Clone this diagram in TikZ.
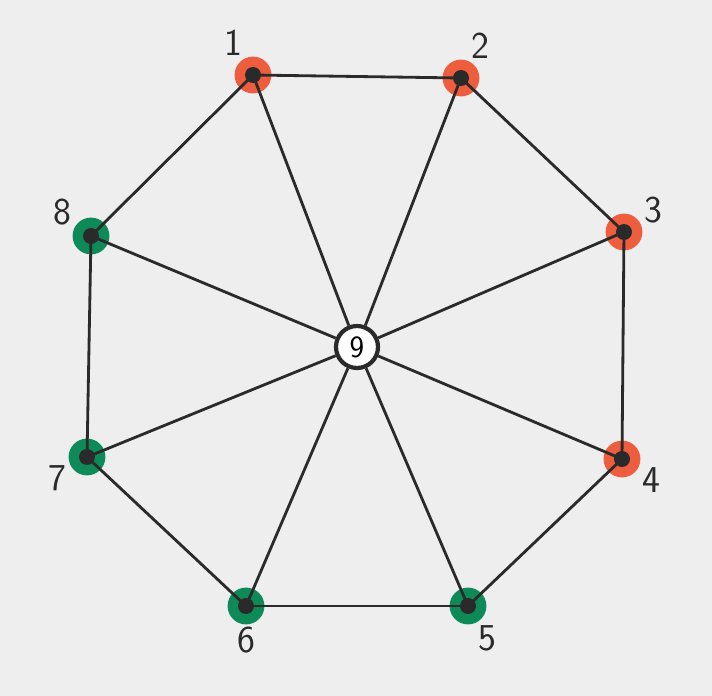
\documentclass[tikz,border=0pt]{standalone}
\usepackage{fontspec}
\definecolor{paper}{HTML}{EEEEEE}
\definecolor{warm}{HTML}{EE5D3E}
\definecolor{cool}{HTML}{0E8A58}
\definecolor{ink}{HTML}{2A2A2A}
\tikzset{
  vtx/.style={circle, minimum size=0.92cm, inner sep=0pt},
  vred/.style={vtx, fill=warm},
  vgreen/.style={vtx, fill=cool},
  hub/.style={circle, draw=ink, line width=3pt, fill=white, minimum size=1.05cm, inner sep=0pt, font=\sffamily\fontsize{22}{22}\selectfont},
  lbl/.style={font=\sffamily\fontsize{27}{27}\selectfont, text=ink, label distance=-2pt},
  edge/.style={draw=ink, line width=2pt}
}
\begin{document}
\begin{tikzpicture}[x=0.025cm, y=-0.025cm]
        \fill[paper] (0,0) rectangle (712,696);
        % Nodes
        \node (n1) [vred, label={[lbl]110:1}] at (253,75) {};
        \node (n2) [vred, label={[lbl]70:2}] at (461,78) {};
        \node (n3) [vred, label={[lbl]15:3}] at (624,232) {};
        \node (n4) [vred, label={[lbl]-15:4}] at (622,459) {};
        \node (n5) [vgreen, label={[lbl]-70:5}] at (468,606) {};
        \node (n6) [vgreen, label={[lbl]-90:6}] at (246,606) {};
        \node (n7) [vgreen, label={[lbl]195:7}] at (87,457) {};
        \node (n8) [vgreen, label={[lbl]160:8}] at (91,236) {};
        \node (n9) [hub] at (357,347) {9};

        % Outer cycle
        \foreach \a/\b in {1/2, 2/3, 3/4, 4/5, 5/6, 6/7, 7/8, 8/1}
          \draw[edge] (n\a.center) -- (n\b.center);
        % Spokes
        \foreach \a in {1,...,8}
          \draw[edge] (n\a.center) -- (n9);
        % Dark centres of the dots
        \foreach \a in {1,...,8}
          \fill[ink] (n\a.center) circle (8);
\end{tikzpicture}
\end{document}
